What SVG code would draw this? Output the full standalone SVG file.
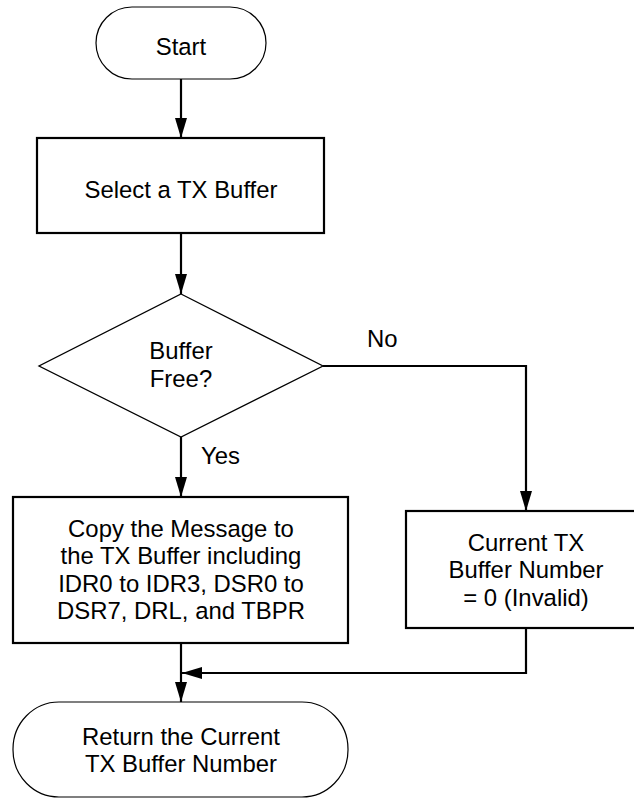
<svg xmlns="http://www.w3.org/2000/svg" width="634" height="799" viewBox="0 0 634 799">
<style>
text{font-family:"Liberation Sans",Arial,sans-serif;font-size:23.9px;fill:#000;text-anchor:middle}
.term{fill:#fff;stroke:#000;stroke-width:1.2}
.box{fill:#fff;stroke:#000;stroke-width:2.2}
.dec{fill:#fff;stroke:#000;stroke-width:1.3}
.conn{fill:none;stroke:#000;stroke-width:2.2;marker-end:url(#ah)}
.lbl{text-anchor:start}
</style>
<defs>
<marker id="ah" viewBox="0 0 20 12" refX="20" refY="6" markerWidth="20" markerHeight="12" markerUnits="userSpaceOnUse" orient="auto">
<path d="M0,0 L20,6 L0,12 z" fill="#000"/>
</marker>
</defs>
<g id="connectors">
<path class="conn" d="M181,79 L181,138"/>
<path class="conn" d="M181,233 L181,294"/>
<path class="conn" d="M323,366 L526,366 L526,511"/>
<path class="conn" d="M181,437 L181,497"/>
<path class="conn" d="M526,628 L526,673 L182,673"/>
<path class="conn" d="M181,643 L181,702"/>
<text class="lbl" x="367" y="347">No</text>
<text class="lbl" x="201" y="464">Yes</text>
</g>
<g id="start">
<rect class="term" x="96" y="7" width="170" height="72" rx="36" ry="36"/>
<text x="181" y="55">Start</text>
</g>
<g id="select">
<rect class="box" x="37" y="138" width="287" height="95"/>
<text x="181" y="198">Select a TX Buffer</text>
</g>
<g id="decision">
<polygon class="dec" points="181,294 323,366 181,437 39,366"/>
<text x="181" y="359">Buffer</text>
<text x="181" y="387">Free?</text>
</g>
<g id="copy">
<rect class="box" x="13" y="497" width="335" height="146"/>
<text x="181" y="537">Copy the Message to</text>
<text x="181" y="564">the TX Buffer including</text>
<text x="181" y="592">IDR0 to IDR3, DSR0 to</text>
<text x="181" y="619">DSR7, DRL, and TBPR</text>
</g>
<g id="invalid">
<rect class="box" x="406" y="511" width="240" height="117"/>
<text x="526" y="551">Current TX</text>
<text x="526" y="578">Buffer Number</text>
<text x="526" y="606">= 0 (Invalid)</text>
</g>
<g id="return">
<rect class="term" x="13" y="702" width="335" height="95" rx="46" ry="47"/>
<text x="181" y="745">Return the Current</text>
<text x="181" y="772">TX Buffer Number</text>
</g>
</svg>
